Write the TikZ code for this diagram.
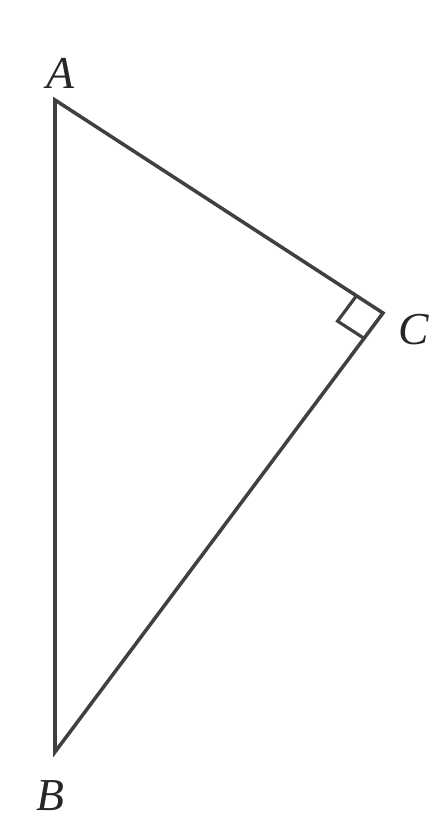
\documentclass[tikz,border=0pt]{standalone}
\usepackage{fontspec}
\setmainfont{Liberation Serif}
\usetikzlibrary{calc}
\tikzset{
  edge/.style={draw=black!75, line width=2pt, line join=miter},
  lbl/.style={font=\fontsize{26}{30}\selectfont\itshape, text=black!85, inner sep=0pt}
}
\begin{document}
\begin{tikzpicture}[x=0.02cm,y=-0.02cm]
\useasboundingbox (0,0) rectangle (446,823);
\coordinate (A) at (55,100);
\coordinate (B) at (55,752);
\coordinate (C) at (383,313);
\draw[edge] (A) -- (C) -- (B) -- cycle;
\coordinate (P1) at ($(C)!18pt!(A)$);
\coordinate (P2) at ($(C)!18pt!(B)$);
\draw[edge, line width=1.8pt] (P1) -- ($(P1)+(P2)-(C)$) -- (P2);
\node[lbl] (la) at (60,73) {A};
\node[lbl] (lb) at (50,796) {B};
\node[lbl] (lc) at (414,330) {C};
\end{tikzpicture}
\end{document}
